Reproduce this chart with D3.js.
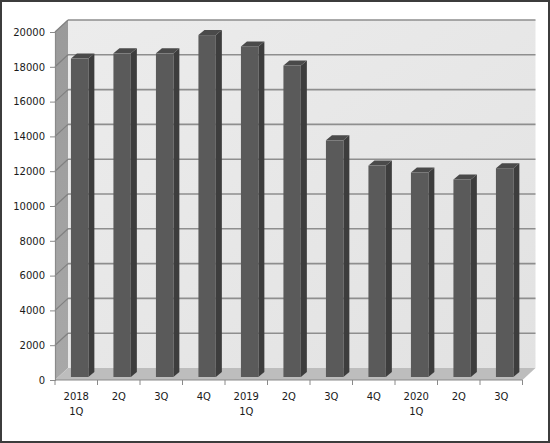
<!DOCTYPE html>
<html>
<head>
<meta charset="utf-8">
<script src="https://cdn.jsdelivr.net/npm/d3@7"></script>
<style>
body{margin:0;background:#fff;}
svg{display:block;}
</style>
</head>
<body>
<div id="chart"></div>
<script>
//Chart data
var labels=["2018 1Q","2Q","3Q","4Q","2019 1Q","2Q","3Q","4Q","2020 1Q","2Q","3Q"];
var values=[18300,18600,18600,19650,19000,17900,13600,12150,11750,11350,12000];
var yTicks=[0,2000,4000,6000,8000,10000,12000,14000,16000,18000,20000];

//Set dimensions of svg
var w=550;
var h=443;

//3D depth offset of back wall and bars
var dx=13, dy=-12;
var bdx=6, bdy=-5;
var bo=3;

var svg=d3.select("#chart")
          .append("svg")
          .attr("width",w)
          .attr("height",h);

var defs=svg.append("defs");
var wallGrad=defs.append("linearGradient").attr("id","wallGrad").attr("x1",0).attr("y1",0).attr("x2",1).attr("y2",1);
wallGrad.append("stop").attr("offset","0%").attr("stop-color","#ececec");
wallGrad.append("stop").attr("offset","100%").attr("stop-color","#e2e2e2");
var sideGrad=defs.append("linearGradient").attr("id","sideGrad").attr("x1",0).attr("y1",0).attr("x2",0).attr("y2",1);
sideGrad.append("stop").attr("offset","0%").attr("stop-color","#9a9a9a");
sideGrad.append("stop").attr("offset","100%").attr("stop-color","#a8a8a8");

//Outer border
svg.append("rect")
   .attr("x",1).attr("y",1)
   .attr("width",w-2).attr("height",h-2)
   .attr("fill","#fff")
   .attr("stroke","#3c3c3c")
   .attr("stroke-width",2);

//Scales
var x=d3.scaleBand().domain(d3.range(labels.length)).range([55,522.5]);
var y=d3.scaleLinear().domain([0,20000]).range([380,32]);

var x0=x.range()[0], x1=x.range()[1];
var yb=y(0), yt=y(20000);

//Left side wall
svg.append("path")
   .attr("d","M"+x0+","+yb+"L"+x0+","+yt+"L"+(x0+dx)+","+(yt+dy)+"L"+(x0+dx)+","+(yb+dy)+"Z")
   .attr("fill","url(#sideGrad)");
//Back wall
svg.append("rect")
   .attr("x",x0+dx).attr("y",yt+dy)
   .attr("width",x1-x0).attr("height",yb-yt)
   .attr("fill","url(#wallGrad)");
//Floor
svg.append("path")
   .attr("d","M"+x0+","+yb+"L"+x1+","+yb+"L"+(x1+dx)+","+(yb+dy)+"L"+(x0+dx)+","+(yb+dy)+"Z")
   .attr("fill","#bdbdbd");

//Gridlines on back wall and side wall
var grid=svg.append("g").attr("id","grid");
grid.selectAll("line.back")
    .data(yTicks.slice(1))
    .enter()
    .append("line")
    .attr("class","back")
    .attr("x1",x0+dx).attr("x2",x1+dx)
    .attr("y1",function(d) {return y(d)+dy;})
    .attr("y2",function(d) {return y(d)+dy;})
    .style("stroke","#8e8e8e")
    .style("stroke-width",1.6);
grid.selectAll("line.side")
    .data(yTicks.slice(1))
    .enter()
    .append("line")
    .attr("class","side")
    .attr("x1",x0).attr("x2",x0+dx)
    .attr("y1",function(d) {return y(d);})
    .attr("y2",function(d) {return y(d)+dy;})
    .style("stroke","#808080")
    .style("stroke-width",1.2);

//Bars
var bw=x.bandwidth()*0.41;
var bars=svg.append("g")
            .attr("id","bars")
            .selectAll("g")
            .data(values)
            .enter()
            .append("g");
function bx(i) {return x(i)+x.bandwidth()*0.375;}
bars.append("path")   //side face
    .attr("d",function(d,i) {
        var l=bx(i)+bw, t=y(d)-bo, b=y(0)-bo;
        return "M"+l+","+b+"L"+l+","+t+"L"+(l+bdx)+","+(t+bdy)+"L"+(l+bdx)+","+(b+bdy)+"Z";
    })
    .attr("fill","#3d3d3d");
bars.append("path")   //top face
    .attr("d",function(d,i) {
        var l=bx(i), t=y(d)-bo;
        return "M"+l+","+t+"L"+(l+bw)+","+t+"L"+(l+bw+bdx)+","+(t+bdy)+"L"+(l+bdx)+","+(t+bdy)+"Z";
    })
    .attr("fill","#4a4a4a");
bars.append("rect")   //front face
    .attr("x",function(d,i) {return bx(i);})
    .attr("y",function(d) {return y(d)-bo;})
    .attr("width",bw)
    .attr("height",function(d) {return y(0)-y(d);})
    .attr("fill","#5a5a5a");

//Y axis
var yAxis=svg.append("g")
             .attr("transform","translate("+x0+",0)")
             .call(d3.axisLeft(y).tickValues(yTicks).tickSize(5).tickPadding(5).tickFormat(d3.format("d")));
yAxis.select(".domain").attr("stroke","#8a8a8a").attr("stroke-width",1.2);
yAxis.selectAll(".tick line").attr("stroke","#8a8a8a");
yAxis.selectAll("text")
     .style("font-family","'DejaVu Sans', Verdana, sans-serif")
     .style("font-size","10px")
     .style("fill","#1a1a1a");

//X axis with ticks at category boundaries
var xAxis=svg.append("g").attr("transform","translate(0,"+yb+")");
xAxis.append("line")
     .attr("x1",x0).attr("x2",x1)
     .attr("stroke","#8a8a8a").attr("stroke-width",1.2);
xAxis.selectAll("line.tick")
     .data(d3.range(labels.length+1))
     .enter()
     .append("line")
     .attr("class","tick")
     .attr("x1",function(i) {return x0+i*x.step();})
     .attr("x2",function(i) {return x0+i*x.step();})
     .attr("y1",0).attr("y2",5)
     .attr("stroke","#8a8a8a");
var xl=xAxis.selectAll("text")
            .data(labels)
            .enter()
            .append("text")
            .attr("x",function(d,i) {return x(i)+x.bandwidth()/2;})
            .attr("y",20)
            .attr("text-anchor","middle")
            .style("font-family","'DejaVu Sans', Verdana, sans-serif")
            .style("font-size","10px")
            .style("fill","#1a1a1a");
xl.selectAll("tspan")
  .data(function(d) {return d.split(" ");})
  .enter()
  .append("tspan")
  .attr("x",function() {return d3.select(this.parentNode).attr("x");})
  .attr("dy",function(d,i) {return i==0?0:15;})
  .text(function(d) {return d;});
</script>
</body>
</html>
